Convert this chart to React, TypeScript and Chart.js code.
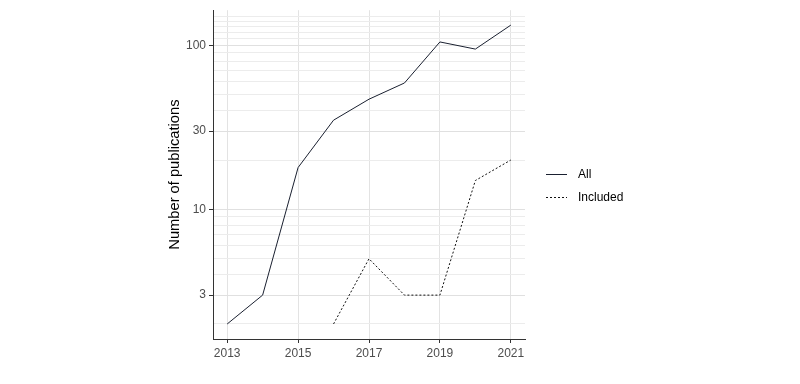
import React, { useEffect, useRef } from "react";
import { Chart, registerables } from "chart.js";

Chart.register(...registerables);

const years = [2013, 2014, 2015, 2016, 2017, 2018, 2019, 2020, 2021];
const allCounts = [2, 3, 18, 35, 47, 59, 105, 95, 133];
const includedCounts = [null, null, null, 2, 5, 3, 3, 15, 20];
const xTickYears = [2013, 2015, 2017, 2019, 2021];
const yMajorTicks = [3, 10, 30, 100];
const yGridValues = [2, 3, 4, 5, 6, 7, 8, 9, 10, 20, 30, 40, 50, 60, 70, 80, 90, 100, 110, 120, 130, 140, 150];
const seriesNames = ["All", "Included"];

const legendPlugin = {
  id: "customLegend",
  afterDraw(chart: any) {
    const ctx = chart.ctx;
    const x0 = 546;
    const rows = [174, 197];
    ctx.save();
    chart.data.datasets.forEach((ds: any, i: number) => {
      const y = rows[i];
      ctx.beginPath();
      ctx.strokeStyle = ds.borderColor;
      ctx.lineWidth = 1;
      ctx.setLineDash(ds.borderDash || []);
      ctx.moveTo(x0, y + 0.5);
      ctx.lineTo(x0 + 21, y + 0.5);
      ctx.stroke();
      ctx.setLineDash([]);
      ctx.fillStyle = "#000000";
      ctx.font = "12px 'Liberation Sans', Arial, sans-serif";
      ctx.textBaseline = "middle";
      ctx.textAlign = "left";
      ctx.fillText(ds.label, 578, y + 1);
    });
    ctx.restore();
  },
};

export default function App() {
  const ref = useRef<HTMLCanvasElement | null>(null);
  useEffect(() => {
    if (!ref.current) return;
    const chart = new Chart(ref.current, {
      type: "line",
      data: {
        labels: years,
        datasets: [
          {
            label: seriesNames[0],
            data: years.map((y, i) => ({ x: y, y: allCounts[i] })),
            borderColor: "#1a2030",
            borderWidth: 1,
            pointRadius: 0,
            tension: 0,
            fill: false,
          },
          {
            label: seriesNames[1],
            data: years.map((y, i) => ({ x: y, y: includedCounts[i] })) as any,
            borderColor: "#111111",
            borderWidth: 1,
            borderDash: [2, 2],
            pointRadius: 0,
            tension: 0,
            fill: false,
            spanGaps: false,
          },
        ],
      },
      options: {
        animation: false,
        responsive: false,
        maintainAspectRatio: false,
        layout: { padding: { left: 162, top: 7, right: 275, bottom: 0 } },
        plugins: {
          legend: { display: false },
          tooltip: { enabled: false },
        },
        scales: {
          x: {
            type: "linear",
            min: 2012.6,
            max: 2021.4,
            afterBuildTicks: (scale: any) => {
              scale.ticks = xTickYears.map((v) => ({ value: v }));
            },
            afterFit: (scale: any) => {
              scale.height = 45;
            },
            ticks: {
              color: "#4d4d4d",
              font: { family: "'Liberation Sans', Arial, sans-serif", size: 12 },
              padding: 3,
              maxRotation: 0,
              autoSkip: false,
              callback: (v: any) => String(v),
            },
            grid: {
              color: "#e3e3e3",
              lineWidth: 1,
              tickColor: "#333333",
              tickLength: 4,
              drawTicks: true,
            },
            border: { display: true, color: "#333333", width: 1 },
          },
          y: {
            type: "logarithmic",
            min: 1.62,
            max: 164,
            afterBuildTicks: (scale: any) => {
              scale.ticks = yGridValues.map((v) => ({ value: v, major: yMajorTicks.includes(v) }));
            },
            afterFit: (scale: any) => {
              scale.width = 51;
            },
            title: {
              display: true,
              text: "Number of publications",
              color: "#000000",
              font: { family: "'Liberation Sans', Arial, sans-serif", size: 14.7 },
              padding: { top: 4, bottom: 0 },
            },
            ticks: {
              color: "#4d4d4d",
              font: { family: "'Liberation Sans', Arial, sans-serif", size: 12 },
              padding: 3,
              autoSkip: false,
              callback: (v: any) => (yMajorTicks.includes(Number(v)) ? String(v) : ""),
            },
            grid: {
              color: (c: any) => (c.tick && yMajorTicks.includes(c.tick.value) ? "#e0e0e0" : "#ececec"),
              lineWidth: 1,
              tickColor: (c: any) => (c.tick && yMajorTicks.includes(c.tick.value) ? "#333333" : "rgba(0,0,0,0)"),
              tickLength: 4,
              drawTicks: true,
            },
            border: { display: true, color: "#333333", width: 1 },
          },
        },
      },
      plugins: [legendPlugin],
    });
    return () => chart.destroy();
  }, []);
  return (
    <div style={{ position: "fixed", left: 0, top: 0, width: 800, height: 384, background: "#ffffff" }}>
      <canvas ref={ref} width={800} height={384} style={{ width: 800, height: 384, display: "block" }} />
    </div>
  );
}
